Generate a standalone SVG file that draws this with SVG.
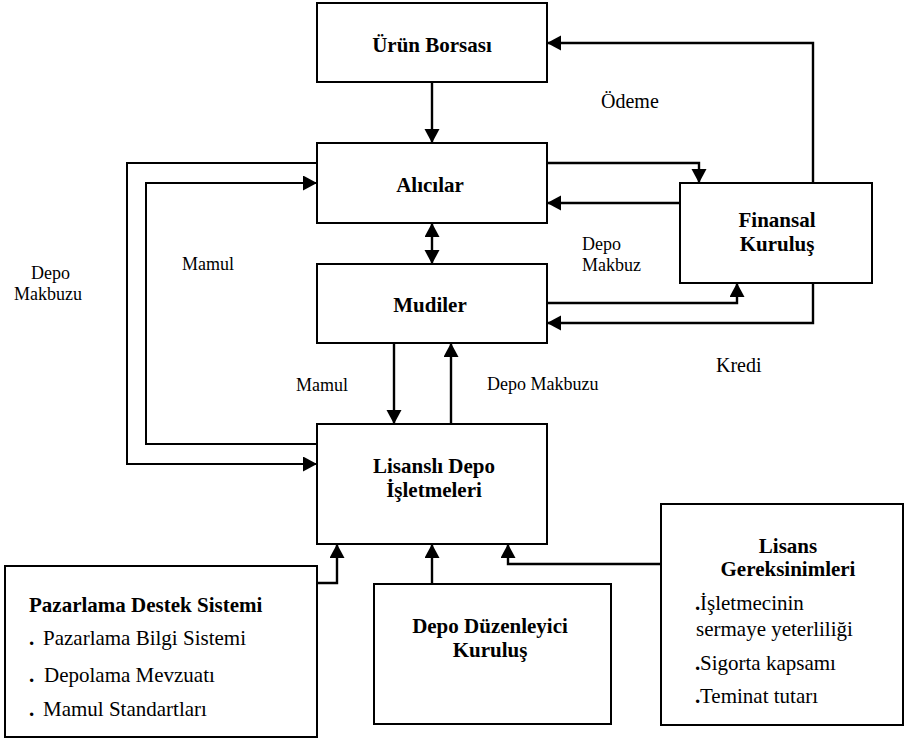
<svg xmlns="http://www.w3.org/2000/svg" width="906" height="744" viewBox="0 0 906 744">
  <defs>
    <marker id="ah" markerUnits="userSpaceOnUse" markerWidth="15" markerHeight="16" refX="14" refY="7.5" orient="auto-start-reverse" viewBox="0 0 15 16">
      <path d="M0,0 L14,7.5 L0,15 z" fill="#000"/>
    </marker>
  </defs>
  <style>
    .box { fill: #fff; stroke: #000; stroke-width: 2; }
    .t { font-family: "Liberation Serif", "Times New Roman", serif; fill: #000; }
    .b { font-weight: bold; font-size: 21px; text-anchor: middle; }
    .item { font-size: 21px; }
    .lbl { font-size: 18px; }
    .lbl2 { font-size: 20px; }
    .c { fill: none; stroke: #000; stroke-width: 2.4; marker-end: url(#ah); }
    .c2 { fill: none; stroke: #000; stroke-width: 2; marker-end: url(#ah); }
  </style>
  <rect width="906" height="744" fill="#fff"/>

  <g id="connectors">
    <path class="c" d="M432,82 V143"/>
    <path class="c" d="M432,223 V264" marker-start="url(#ah)"/>
    <path class="c" d="M547,163 H699 V183"/>
    <path class="c" d="M680,203 H547"/>
    <path class="c" d="M813,183 V43 H547"/>
    <path class="c" d="M547,303 H737 V283"/>
    <path class="c" d="M813,283 V323 H547"/>
    <path class="c2" d="M317,163 H127 V464 H317"/>
    <path class="c2" d="M317,444 H146 V183 H317"/>
    <path class="c" d="M394,343 V424"/>
    <path class="c" d="M451,424 V343"/>
    <path class="c" d="M317,583 H337 V544"/>
    <path class="c" d="M432,584 V544"/>
    <path class="c" d="M661,564 H508 V544"/>
  </g>

  <g id="labels">
    <text class="t lbl2" x="601" y="108">Ödeme</text>
    <text class="t lbl" x="582" y="250">Depo</text>
    <text class="t lbl" x="582" y="271">Makbuz</text>
    <text class="t lbl2" x="716" y="372">Kredi</text>
    <text class="t lbl" x="182" y="270">Mamul</text>
    <text class="t lbl" x="296" y="391">Mamul</text>
    <text class="t lbl" x="487" y="390">Depo Makbuzu</text>
    <text class="t lbl" x="31" y="279">Depo</text>
    <text class="t lbl" x="14" y="300">Makbuzu</text>
  </g>

  <g id="urun-borsasi">
    <rect class="box" x="317" y="3" width="230" height="79"/>
    <text class="t b" x="432" y="52">Ürün Borsası</text>
  </g>
  <g id="alicilar">
    <rect class="box" x="317" y="143" width="230" height="80"/>
    <text class="t b" x="430" y="192">Alıcılar</text>
  </g>
  <g id="mudiler">
    <rect class="box" x="317" y="264" width="230" height="79"/>
    <text class="t b" x="430" y="312">Mudiler</text>
  </g>
  <g id="lisansli-depo">
    <rect class="box" x="317" y="424" width="230" height="120"/>
    <text class="t b" x="434" y="473">Lisanslı Depo</text>
    <text class="t b" x="434" y="497">İşletmeleri</text>
  </g>
  <g id="finansal-kurulus">
    <rect class="box" x="680" y="183" width="192" height="100"/>
    <text class="t b" x="777" y="227">Finansal</text>
    <text class="t b" x="777" y="251">Kuruluş</text>
  </g>
  <g id="pazarlama">
    <rect class="box" x="5" y="566" width="312" height="171"/>
    <text class="t item" x="29" y="612" font-weight="bold">Pazarlama Destek Sistemi</text>
    <text class="t item" y="645"><tspan x="29" font-weight="bold">.</tspan><tspan x="43">Pazarlama Bilgi Sistemi</tspan></text>
    <text class="t item" y="682"><tspan x="29" font-weight="bold">.</tspan><tspan x="44">Depolama Mevzuatı</tspan></text>
    <text class="t item" y="716"><tspan x="29" font-weight="bold">.</tspan><tspan x="43">Mamul Standartları</tspan></text>
  </g>
  <g id="depo-duzenleyici">
    <rect class="box" x="374" y="584" width="237" height="140"/>
    <text class="t b" x="490" y="633">Depo Düzenleyici</text>
    <text class="t b" x="490" y="657">Kuruluş</text>
  </g>
  <g id="lisans-gereksinimleri">
    <rect class="box" x="661" y="504" width="242" height="221"/>
    <text class="t b" x="788" y="553">Lisans</text>
    <text class="t b" x="788" y="576">Gereksinimleri</text>
    <text class="t item" y="610"><tspan x="695" font-weight="bold">.</tspan><tspan x="700">İşletmecinin</tspan></text>
    <text class="t item" x="696" y="636">sermaye yeterliliği</text>
    <text class="t item" y="670"><tspan x="695" font-weight="bold">.</tspan><tspan x="700">Sigorta kapsamı</tspan></text>
    <text class="t item" y="703"><tspan x="695" font-weight="bold">.</tspan><tspan x="700">Teminat tutarı</tspan></text>
  </g>
</svg>
